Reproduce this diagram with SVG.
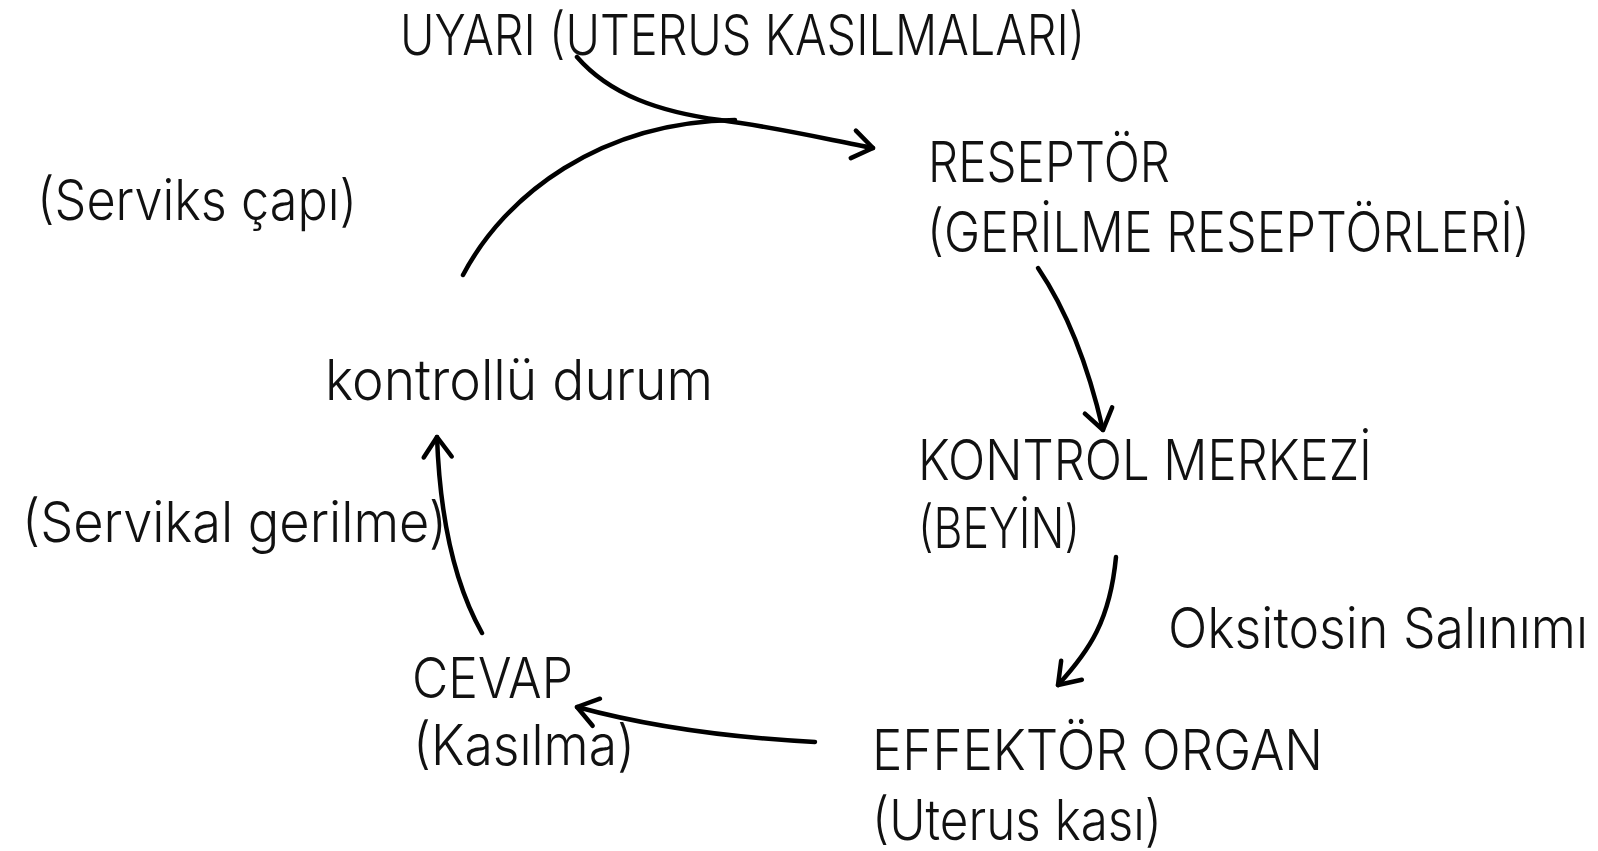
<svg xmlns="http://www.w3.org/2000/svg" width="1598" height="851" viewBox="0 0 1598 851">
<style>
  .t { font-family: "Inter", "Liberation Sans", sans-serif; font-weight: 300; font-size: 56px; fill: #111; }
  .c { fill: none; stroke: #000; stroke-width: 4.5; stroke-linecap: round; stroke-linejoin: round; }
</style>
<defs>
  <marker id="arrow" viewBox="-26 -18 30 36" refX="0" refY="0" markerWidth="30" markerHeight="36" markerUnits="userSpaceOnUse" orient="auto" overflow="visible">
    <path d="M-20,-14 L0,0 L-20,14" fill="none" stroke="#000" stroke-width="4.5" stroke-linecap="round" stroke-linejoin="round"/>
  </marker>
</defs>
<rect width="1598" height="851" fill="#fff"/>

<g id="connectors">
  <path class="c" d="M577,57 C610,95 660,112 720,120 C780,128 830,140 873,148" marker-end="url(#arrow)"/>
  <path class="c" d="M463,275 C505,195 600,122 735,120"/>
  <path class="c" d="M1038,268 Q1080,330 1103,430" marker-end="url(#arrow)"/>
  <path class="c" d="M1116,557 C1110,620 1090,650 1058,685" marker-end="url(#arrow)"/>
  <path class="c" d="M815,742 Q680,735 577,707" marker-end="url(#arrow)"/>
  <path class="c" d="M482,633 C455,585 440,520 437,437" marker-end="url(#arrow)"/>
</g>

<g id="uyari">
  <text class="t" transform="translate(400,55) scale(0.85,1)" textLength="806" lengthAdjust="spacingAndGlyphs">UYARI (UTERUS KASILMALARI)</text>
</g>
<g id="reseptor">
  <text class="t" transform="translate(928,182) scale(0.85,1)" textLength="284.7" lengthAdjust="spacingAndGlyphs">RESEPTÖR</text>
  <text class="t" transform="translate(927,252) scale(0.85,1)" textLength="709.4" lengthAdjust="spacingAndGlyphs">(GERİLME RESEPTÖRLERİ)</text>
</g>
<g id="serviks-capi">
  <text class="t" transform="translate(37,220) scale(0.85,1)" textLength="376.5" lengthAdjust="spacingAndGlyphs">(Serviks çapı)</text>
</g>
<g id="kontrollu-durum">
  <text class="t" transform="translate(325,400) scale(0.85,1)" textLength="456.5" lengthAdjust="spacingAndGlyphs">kontrollü durum</text>
</g>
<g id="kontrol-merkezi">
  <text class="t" transform="translate(918,480) scale(0.85,1)" textLength="534.1" lengthAdjust="spacingAndGlyphs">KONTROL MERKEZİ</text>
  <text class="t" transform="translate(918,548) scale(0.85,1)" textLength="190.6" lengthAdjust="spacingAndGlyphs">(BEYİN)</text>
</g>
<g id="oksitosin">
  <text class="t" transform="translate(1168,648) scale(0.85,1)" textLength="494.1" lengthAdjust="spacingAndGlyphs">Oksitosin Salınımı</text>
</g>
<g id="servikal-gerilme">
  <text class="t" transform="translate(22,542) scale(0.85,1)" textLength="500" lengthAdjust="spacingAndGlyphs">(Servikal gerilme)</text>
</g>
<g id="cevap">
  <text class="t" transform="translate(412,698) scale(0.85,1)" textLength="189.4" lengthAdjust="spacingAndGlyphs">CEVAP</text>
  <text class="t" transform="translate(413,765) scale(0.85,1)" textLength="261.2" lengthAdjust="spacingAndGlyphs">(Kasılma)</text>
</g>
<g id="effektor">
  <text class="t" transform="translate(872,770) scale(0.85,1)" textLength="530.6" lengthAdjust="spacingAndGlyphs">EFFEKTÖR ORGAN</text>
  <text class="t" transform="translate(872,840) scale(0.85,1)" textLength="341.2" lengthAdjust="spacingAndGlyphs">(Uterus kası)</text>
</g>
</svg>
